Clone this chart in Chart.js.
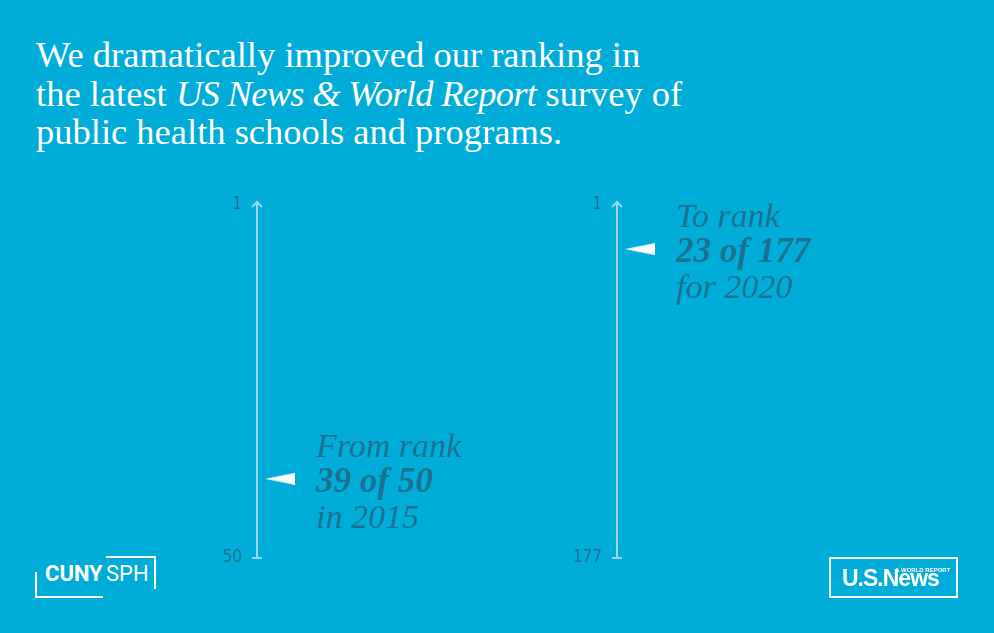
<html>

<head>
  <title>Ranking</title>
  <style>
    body {
      margin: 0;
      width: 994px;
      height: 633px;
      overflow: hidden;
      position: relative;
      background: #00acd8;
    }

    .title {
      position: absolute;
      left: 36px;
      top: 36px;
      font-family: "Liberation Serif", serif;
      font-size: 36.5px;
      line-height: 38.5px;
      color: #fff;
      white-space: nowrap;
    }

    .title i {
      letter-spacing: -0.7px;
    }

    canvas {
      position: absolute;
      top: 0;
    }

    .cuny {
      position: absolute;
      left: 35px;
      top: 556px;
      width: 121px;
      height: 42px;
      font-family: Roboto, sans-serif;
      color: #fff;
    }

    .cuny .lo {
      position: absolute;
      left: 0;
      top: 16px;
      width: 66px;
      height: 24px;
      border-left: 2px solid #fff;
      border-bottom: 2px solid #fff;
    }

    .cuny .hi {
      position: absolute;
      left: 71px;
      top: 0;
      width: 48px;
      height: 31px;
      border-top: 2px solid #fff;
      border-right: 2px solid #fff;
    }

    .cuny span {
      position: absolute;
      top: 5px;
      font-size: 22px;
      line-height: 26px;
      white-space: nowrap;
    }

    .cuny .c1 {
      left: 10px;
      font-weight: bold;
    }

    .cuny .c2 {
      left: 71px;
    }

    .usn {
      position: absolute;
      left: 829px;
      top: 557px;
      width: 129px;
      height: 41px;
      box-sizing: border-box;
      border: 2px solid #fff;
      color: #fff;
      font-family: "Liberation Sans", Arial, sans-serif;
    }

    .usn .big {
      position: absolute;
      left: 11px;
      top: 6px;
      font-size: 23px;
      line-height: 26px;
      font-weight: bold;
      letter-spacing: -1px;
      white-space: nowrap;
    }

    .usn .small {
      position: absolute;
      left: 64px;
      top: 8px;
      font-size: 6px;
      line-height: 6px;
      font-weight: bold;
      white-space: nowrap;
    }
  </style>
</head>

<body>
  <div class="title">We dramatically improved our ranking in<br>the latest <i>US News &amp; World Report</i> survey of<br>public health schools and programs.</div>

  <canvas id="chart0" width="340" height="633" style="left:197px"></canvas>
  <canvas id="chart1" width="340" height="633" style="left:557px"></canvas>

  <div class="cuny">
    <div class="lo"></div>
    <div class="hi"></div>
    <span class="c1">CUNY</span><span class="c2">SPH</span>
  </div>

  <div class="usn">
    <div class="big">U.S.News</div>
    <div class="small">&amp; WORLD REPORT</div>
  </div>

  <script src="https://cdn.jsdelivr.net/npm/chart.js"></script>
  <script>
    // rank data
    var years = ['2015', '2020'];
    var ranks = [39, 23];
    var totals = [50, 177];
    var leads = ['From rank', 'To rank'];
    var preps = ['in', 'for'];

    var axisColor = '#9ad8ef';
    var textColor = '#1b7190';

    // flag marker: white triangle pointing at the axis, sitting right of the point
    function makeMarker() {
      var c = document.createElement('canvas');
      c.width = 76;
      c.height = 12;
      var g = c.getContext('2d');
      g.fillStyle = '#fff';
      g.beginPath();
      g.moveTo(46, 6);
      g.lineTo(76, 0);
      g.lineTo(76, 12);
      g.closePath();
      g.fill();
      return c;
    }
    var marker = makeMarker();

    var rankDecor = {
      id: 'rankDecor',
      afterDraw: function (chart, args, opts) {
        var ctx = chart.ctx;
        var area = chart.chartArea;
        var ax = area.left;
        ctx.save();

        // arrow head on top, cap at the bottom
        ctx.strokeStyle = axisColor;
        ctx.lineWidth = 2;
        ctx.beginPath();
        ctx.moveTo(ax, area.top);
        ctx.lineTo(ax, area.top - 3);
        ctx.moveTo(ax - 5, area.top + 2);
        ctx.lineTo(ax, area.top - 3);
        ctx.lineTo(ax + 5, area.top + 2);
        ctx.moveTo(ax - 5, area.bottom);
        ctx.lineTo(ax + 5, area.bottom);
        ctx.stroke();

        // the label next to the marker
        var pt = chart.getDatasetMeta(0).data[0];
        var i = opts.index;
        var x = pt.x + 59;
        var y = pt.y;
        ctx.fillStyle = textColor;
        ctx.textAlign = 'left';
        ctx.textBaseline = 'alphabetic';
        ctx.font = 'italic 34px "Liberation Serif", serif';
        ctx.fillText(leads[i], x, y - 22);
        ctx.font = 'italic bold 35px "Liberation Serif", serif';
        ctx.fillText(ranks[i] + ' of ' + totals[i], x, y + 13);
        ctx.font = 'italic 34px "Liberation Serif", serif';
        ctx.fillText(preps[i] + ' ' + years[i], x, y + 49);
        ctx.restore();
      }
    };

    years.forEach(function (year, i) {
      new Chart(document.getElementById('chart' + i), {
        type: 'scatter',
        data: {
          datasets: [{
            label: year,
            data: [{ x: 0, y: ranks[i] }],
            pointStyle: marker,
            clip: false
          }]
        },
        options: {
          responsive: false,
          animation: false,
          layout: {
            padding: { top: 205, bottom: 633 - 558, left: 0, right: 0 }
          },
          scales: {
            x: { type: 'linear', min: 0, max: 1, display: false },
            y: {
              type: 'linear',
              position: 'left',
              reverse: true,
              min: 1,
              max: totals[i],
              afterBuildTicks: function (scale) {
                scale.ticks = [{ value: 1 }, { value: totals[i] }];
              },
              afterFit: function (scale) {
                scale.width = 60;
              },
              grid: { display: false, drawTicks: false },
              border: { display: true, color: axisColor, width: 2 },
              ticks: {
                padding: 15,
                color: textColor,
                font: { family: '"DejaVu Sans Condensed", Roboto, sans-serif', size: 17 }
              }
            }
          },
          plugins: {
            legend: { display: false },
            tooltip: { enabled: false },
            rankDecor: { index: i }
          }
        },
        plugins: [rankDecor]
      });
    });
  </script>
</body>

</html>
